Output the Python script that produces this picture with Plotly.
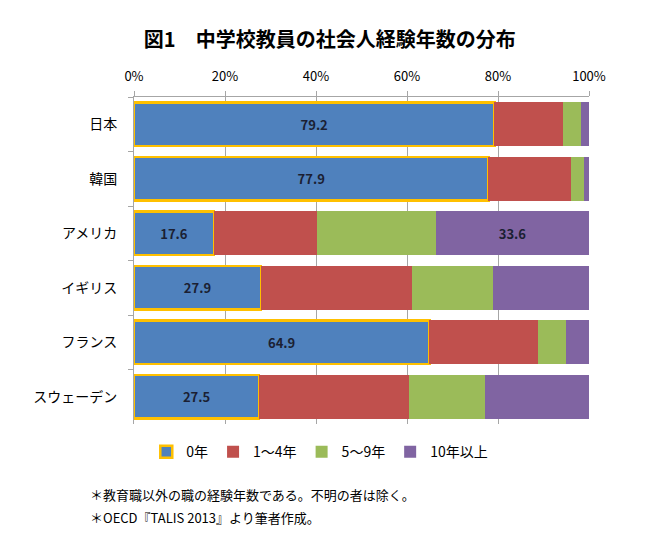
import plotly.graph_objects as go

countries = ["日本", "韓国", "アメリカ", "イギリス", "フランス", "スウェーデン"]
series_names = ["0年", "1～4年", "5～9年", "10年以上"]
y0 = [79.2, 77.9, 17.6, 27.9, 64.9, 27.5]
y1_4 = [15.0, 18.2, 22.7, 33.3, 23.9, 33.0]
y5_9 = [4.1, 2.7, 26.1, 17.8, 6.2, 16.7]
y10 = [1.7, 1.2, 33.6, 21.0, 5.0, 22.8]
tick_vals = [0, 20, 40, 60, 80, 100]
tick_text = ["0%", "20%", "40%", "60%", "80%", "100%"]

colors = ["#4F81BD", "#C0504D", "#9BBB59", "#8064A2"]
FONT = "Noto Sans CJK JP"

fig = go.Figure()
data = [y0, y1_4, y5_9, y10]
labels = [
    [f"{v:.1f}" for v in y0],
    ["" for _ in y1_4],
    ["" for _ in y5_9],
    ["" if c != "アメリカ" else f"{v:.1f}" for c, v in zip(countries, y10)],
]
for i, (name, vals) in enumerate(zip(series_names, data)):
    fig.add_trace(go.Bar(
        y=countries, x=vals, name=name, orientation="h",
        marker=dict(color=colors[i],
                    line=dict(color="#FFC000" if i == 0 else colors[i], width=2.5 if i == 0 else 0)),
        text=labels[i], textposition="inside", insidetextanchor="middle",
        textfont=dict(family=FONT, size=13, color="#1b1f33", weight="bold"),
        textangle=0, constraintext="none", hoverinfo="skip",
    ))

fig.update_layout(
    width=650, height=558,
    barmode="stack", bargap=0.2,
    paper_bgcolor="white", plot_bgcolor="white",
    margin=dict(l=126, r=69, t=89, b=142),
    font=dict(family=FONT, color="#000000"),
    title=dict(text="<b>図1　中学校教員の社会人経験年数の分布</b>", x=0.495, y=0.943,
               xanchor="center", yanchor="middle", font=dict(size=20, family=FONT, color="#000")),
    showlegend=True,
    legend=dict(orientation="h", x=0.027, xanchor="left", y=-0.086, yanchor="middle",
                font=dict(size=14, family=FONT), traceorder="normal", itemwidth=30,
                bgcolor="rgba(0,0,0,0)"),
    uniformtext=dict(mode=False),
)
fig.update_xaxes(
    side="top", range=[0, 100], tickvals=tick_vals, ticktext=tick_text,
    showgrid=True, gridcolor="#A6A6A6", gridwidth=1,
    showline=True, linecolor="#A6A6A6", linewidth=1,
    ticks="outside", ticklen=5, tickcolor="#A6A6A6",
    tickfont=dict(size=13, family=FONT, color="#000"),
    ticklabelstandoff=5, zeroline=False, mirror=False,
)
fig.update_yaxes(
    autorange="reversed", showline=True, linecolor="#A6A6A6", linewidth=1,
    ticks="outside", ticklen=5, tickcolor="#A6A6A6", tickson="boundaries",
    tickfont=dict(size=14, family=FONT, color="#000"), showgrid=False,
    ticklabelstandoff=13,
)
notes = ["＊教育職以外の職の経験年数である。不明の者は除く。", "＊OECD『TALIS 2013』より筆者作成。"]
for t, yy in zip(notes, [-0.217, -0.287]):
    fig.add_annotation(text=t, xref="paper", yref="paper", x=-0.101, y=yy,
                       xanchor="left", yanchor="middle", showarrow=False,
                       font=dict(size=13, family=FONT, color="#000"))

fig.write_html("out.html")
